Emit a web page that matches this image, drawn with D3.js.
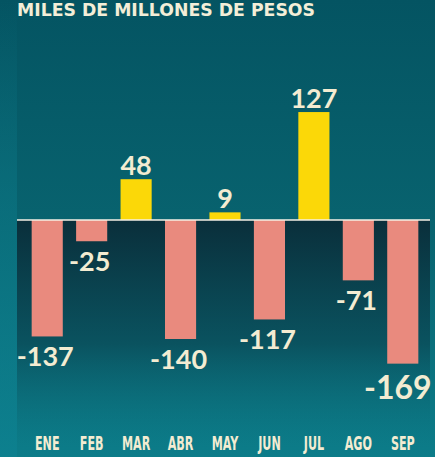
<!DOCTYPE html>
<html>
<head>
<meta charset="utf-8">
<script src="https://cdn.jsdelivr.net/npm/d3@7"></script>
<style>
  html, body { margin: 0; padding: 0; background: #065866; }
  svg { display: block; }
</style>
</head>
<body>
<div id="chart"></div>
<script>
const width = 435;
const height = 457;

// data
const months = ["ENE", "FEB", "MAR", "ABR", "MAY", "JUN", "JUL", "AGO", "SEP"];
const values = [-137, -25, 48, -140, 9, -117, 127, -71, -169];
const title = "MILES DE MILLONES DE PESOS";

const svg = d3.select("#chart").append("svg")
  .attr("width", width)
  .attr("height", height);

const defs = svg.append("defs");

// background teal gradient
const bg = defs.append("linearGradient")
  .attr("id", "bg").attr("x1", 0).attr("y1", 0).attr("x2", 0).attr("y2", 1);
bg.append("stop").attr("offset", "0%").attr("stop-color", "#045462");
bg.append("stop").attr("offset", "50%").attr("stop-color", "#08636f");
bg.append("stop").attr("offset", "100%").attr("stop-color", "#0c7c89");

// dark band under the zero line
const dark = defs.append("linearGradient")
  .attr("id", "dark").attr("x1", 0).attr("y1", 0).attr("x2", 0).attr("y2", 1);
dark.append("stop").attr("offset", "0%").attr("stop-color", "#0a2c38").attr("stop-opacity", 0.95);
dark.append("stop").attr("offset", "55%").attr("stop-color", "#0a3f4c").attr("stop-opacity", 0.6);
dark.append("stop").attr("offset", "100%").attr("stop-color", "#0b6e7c").attr("stop-opacity", 0);

// soft lighter strip on the left edge
const edge = defs.append("linearGradient")
  .attr("id", "edge").attr("x1", 0).attr("y1", 0).attr("x2", 0).attr("y2", 1);
edge.append("stop").attr("offset", "0%").attr("stop-color", "#0e8494").attr("stop-opacity", 0);
edge.append("stop").attr("offset", "45%").attr("stop-color", "#0e8494").attr("stop-opacity", 0.35);
edge.append("stop").attr("offset", "100%").attr("stop-color", "#0e8494").attr("stop-opacity", 0.5);

svg.append("rect").attr("width", width).attr("height", height).attr("fill", "url(#bg)");
svg.append("rect").attr("x", 0).attr("y", 0).attr("width", 17).attr("height", height)
  .attr("fill", "url(#edge)");

const x = d3.scalePoint()
  .domain(months)
  .range([25, 425])
  .padding(0.5);
const barW = x.step() * 0.7;

const y = d3.scaleLinear()
  .domain([-180, 140])
  .range([373, 101]);

const plotLeft = 17, plotRight = 430;

svg.append("rect")
  .attr("x", plotLeft)
  .attr("y", y(0))
  .attr("width", plotRight - plotLeft)
  .attr("height", 445 - y(0))
  .attr("fill", "url(#dark)");

// title (sits right at the top edge like the source)
svg.append("text")
  .attr("x", 17)
  .attr("y", 16)
  .attr("textLength", 298)
  .attr("lengthAdjust", "spacingAndGlyphs")
  .attr("font-family", "DejaVu Sans, sans-serif")
  .attr("font-weight", "bold")
  .attr("font-size", 17)
  .attr("fill", "#f3eed8")
  .text(title);

const data = months.map((m, i) => ({ month: m, value: values[i] }));
const minVal = d3.min(values);

svg.selectAll("rect.bar")
  .data(data)
  .join("rect")
  .attr("class", "bar")
  .attr("x", d => x(d.month) - barW / 2)
  .attr("y", d => y(Math.max(0, d.value)))
  .attr("width", barW)
  .attr("height", d => Math.abs(y(d.value) - y(0)))
  .attr("fill", d => d.value >= 0 ? "#fbd808" : "#e98a7e");

// zero line
svg.append("line")
  .attr("x1", plotLeft).attr("x2", plotRight)
  .attr("y1", y(0)).attr("y2", y(0))
  .attr("stroke", "#f4f1e6")
  .attr("stroke-width", 1.6);

// value labels
svg.selectAll("text.val")
  .data(data)
  .join("text")
  .attr("class", "val")
  .attr("x", d => x(d.month) - (d.value === minVal ? 5 : d.value < 0 ? 2 : 0))
  .attr("y", d => d.value >= 0 ? y(d.value) - 4 : y(d.value) + (d.value === minVal ? 35 : 30))
  .attr("text-anchor", "middle")
  .attr("font-family", "Lato, Liberation Sans, sans-serif")
  .attr("font-weight", "bold")
  .attr("font-size", d => d.value === minVal ? 32 : 27)
  .attr("fill", "#f3ecd2")
  .text(d => d.value);

// month labels (condensed)
svg.selectAll("g.month")
  .data(months)
  .join("g")
  .attr("class", "month")
  .attr("transform", d => `translate(${x(d)},450) scale(0.62,1)`)
  .append("text")
  .attr("text-anchor", "middle")
  .attr("font-family", "DejaVu Sans Condensed, DejaVu Sans, sans-serif")
  .attr("font-weight", "bold")
  .attr("font-size", 20)
  .attr("fill", "#f3ecd2")
  .text(d => d);
</script>
</body>
</html>
